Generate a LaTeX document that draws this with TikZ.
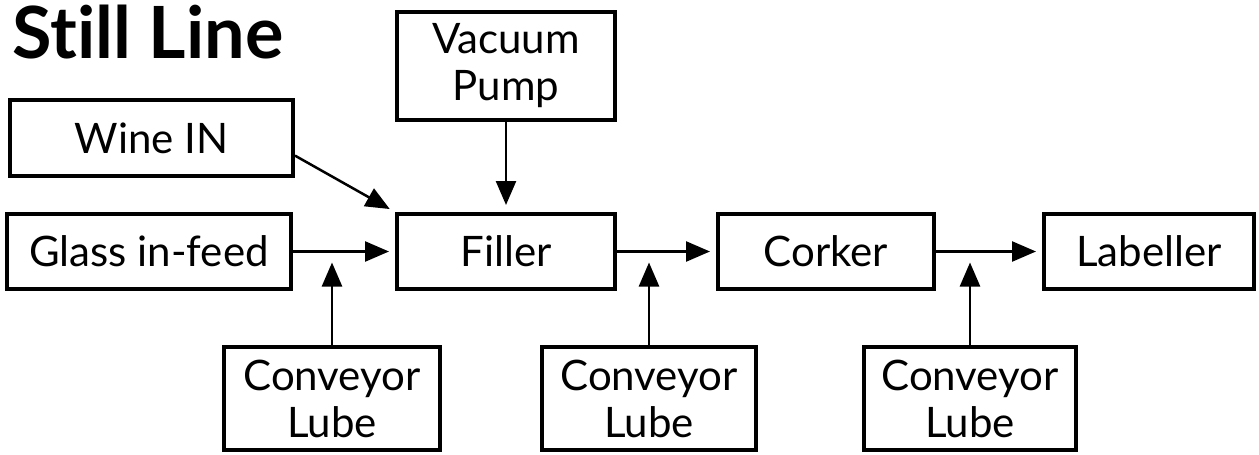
\documentclass[tikz,border=0pt]{standalone}
\usepackage{fontspec}
\setmainfont{Lato}[Ligatures=NoCommon]
\usetikzlibrary{arrows.meta}

\begin{document}
\begin{tikzpicture}[
  x=1pt,
  y=-1pt,
  font=\fontsize{42}{47}\selectfont,
  unit/.style={draw, line width=4pt, align=center, inner sep=0pt},
  flow/.style={line width=2.5pt, -{Triangle[length=24pt,width=20pt]}}
]

% White background
\fill[white] (0,0) rectangle (1259,455);

% Title
\node[anchor=base west, font=\fontsize{72}{78}\selectfont\bfseries] (title) at (9,58) {Still Line};

% Inputs
\node[unit, minimum width=218pt, minimum height=108pt] (vacuum) at (506,66) {Vacuum\\Pump};
\node[unit, minimum width=283pt, minimum height=76pt] (wine) at (151.5,138) {Wine IN};
\node[unit, minimum width=284pt, minimum height=75pt] (glass) at (149,251.5) {Glass in-feed};

% Main line
\node[unit, minimum width=218pt, minimum height=75pt] (filler) at (506,251.5) {Filler};
\node[unit, minimum width=216pt, minimum height=75pt] (corker) at (826,251.5) {Corker};
\node[unit, minimum width=210pt, minimum height=75pt] (labeller) at (1149,251.5) {Labeller};

% Lubrication
\node[unit, minimum width=216pt, minimum height=103pt] (lube1) at (332,398.5) {Conveyor\\Lube};
\node[unit, minimum width=214pt, minimum height=103pt] (lube2) at (649,398.5) {Conveyor\\Lube};
\node[unit, minimum width=212pt, minimum height=103pt] (lube3) at (970,398.5) {Conveyor\\Lube};

% Flow arrows
\draw[flow, shorten >=6pt] (glass) -- (filler);
\draw[flow, shorten >=6pt] (filler) -- (corker);
\draw[flow, shorten >=6pt] (corker) -- (labeller);
\draw[flow, shorten >=7pt] (vacuum) -- (filler);
\draw[flow, shorten >=6pt] (wine.-7) -- (filler.north west);

\foreach \n in {1,2,3} {
  \draw[flow, shorten >=11pt] (lube\n.north) -- (lube\n.north |- filler.west);
}

\end{tikzpicture}
\end{document}
